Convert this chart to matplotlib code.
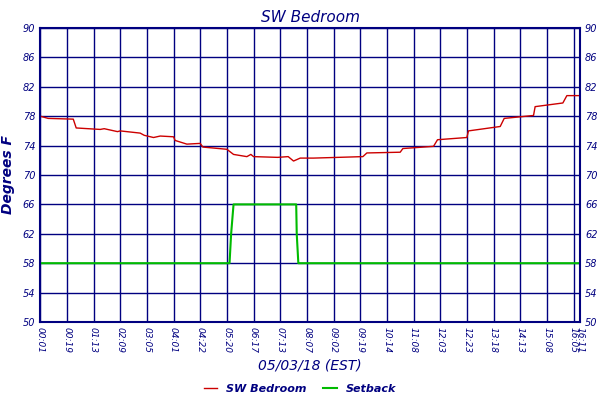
import matplotlib
matplotlib.use("Agg")
import matplotlib.pyplot as plt

tick_labels = ["00:01","00:19","01:13","02:09","03:05","04:01","04:22","05:20","06:17","07:13",
               "08:07","09:02","09:19","10:14","11:08","12:03","12:23","13:18","14:13","15:08","16:05","16:11"]
tick_pos = list(range(21)) + [20.25]

temp_x = [0,0.3,1.24,1.35,2.25,2.4,2.9,3.0,3.75,3.9,4.25,4.5,5.0,5.06,5.5,6.0,6.1,7.0,7.25,7.75,7.9,8.0,
          8.9,9.3,9.5,9.75,10.25,12.1,12.25,13.5,13.6,14.75,14.9,16.0,16.06,17.25,17.4,18.5,18.56,19.6,19.75,20.25]
temp_y = [78.0,77.7,77.6,76.4,76.2,76.3,75.9,76.0,75.7,75.4,75.1,75.3,75.2,74.7,74.2,74.3,73.8,73.5,72.8,72.5,72.8,72.5,
          72.4,72.5,71.9,72.3,72.3,72.5,73.0,73.1,73.6,73.9,74.8,75.1,76.0,76.6,77.7,78.1,79.3,79.8,80.8,80.8]
set_x = [0,7.1,7.16,7.25,9.6,9.62,9.68,20.25]
set_y = [58,58,62,66,66,62,58,58]

navy = "#000080"
fig = plt.figure(figsize=(6,4), dpi=100)
ax = fig.add_axes([0.067,0.195,0.9,0.735])
ax.plot(temp_x, temp_y, color="#cc0000", lw=1, label="SW Bedroom")
ax.plot(set_x, set_y, color="#00bb00", lw=1.5, label="Setback")
ax.set_xlim(0,20.25)
ax.set_ylim(50,90)
ax.set_yticks(range(50,91,4))
ax.set_xticks(tick_pos)
ax.set_xticklabels(tick_labels, rotation=-90, fontsize=6.5, style="italic", color=navy)
ax.tick_params(axis="y", labelsize=7, labelcolor=navy, right=True, labelright=True, length=0)
for l in ax.get_yticklabels():
    l.set_style("italic")
ax.tick_params(axis="x", length=0)
ax.grid(True, color=navy, lw=1)
for s in ax.spines.values():
    s.set_color(navy); s.set_linewidth(1.5)
ax.set_title("SW Bedroom", fontsize=11, style="italic", color=navy, pad=4)
ax.set_ylabel("Degrees F", fontsize=10, style="italic", weight="bold", color=navy, labelpad=6)
ax.set_xlabel("05/03/18 (EST)", fontsize=10, style="italic", color=navy, labelpad=4)
leg = fig.legend(loc="lower center", ncol=2, frameon=False, fontsize=8, bbox_to_anchor=(0.5,-0.01),
                 handlelength=1.2, columnspacing=1.5)
for t in leg.get_texts():
    t.set_color(navy); t.set_style("italic"); t.set_weight("bold")
fig.savefig("out.png", dpi=100)
